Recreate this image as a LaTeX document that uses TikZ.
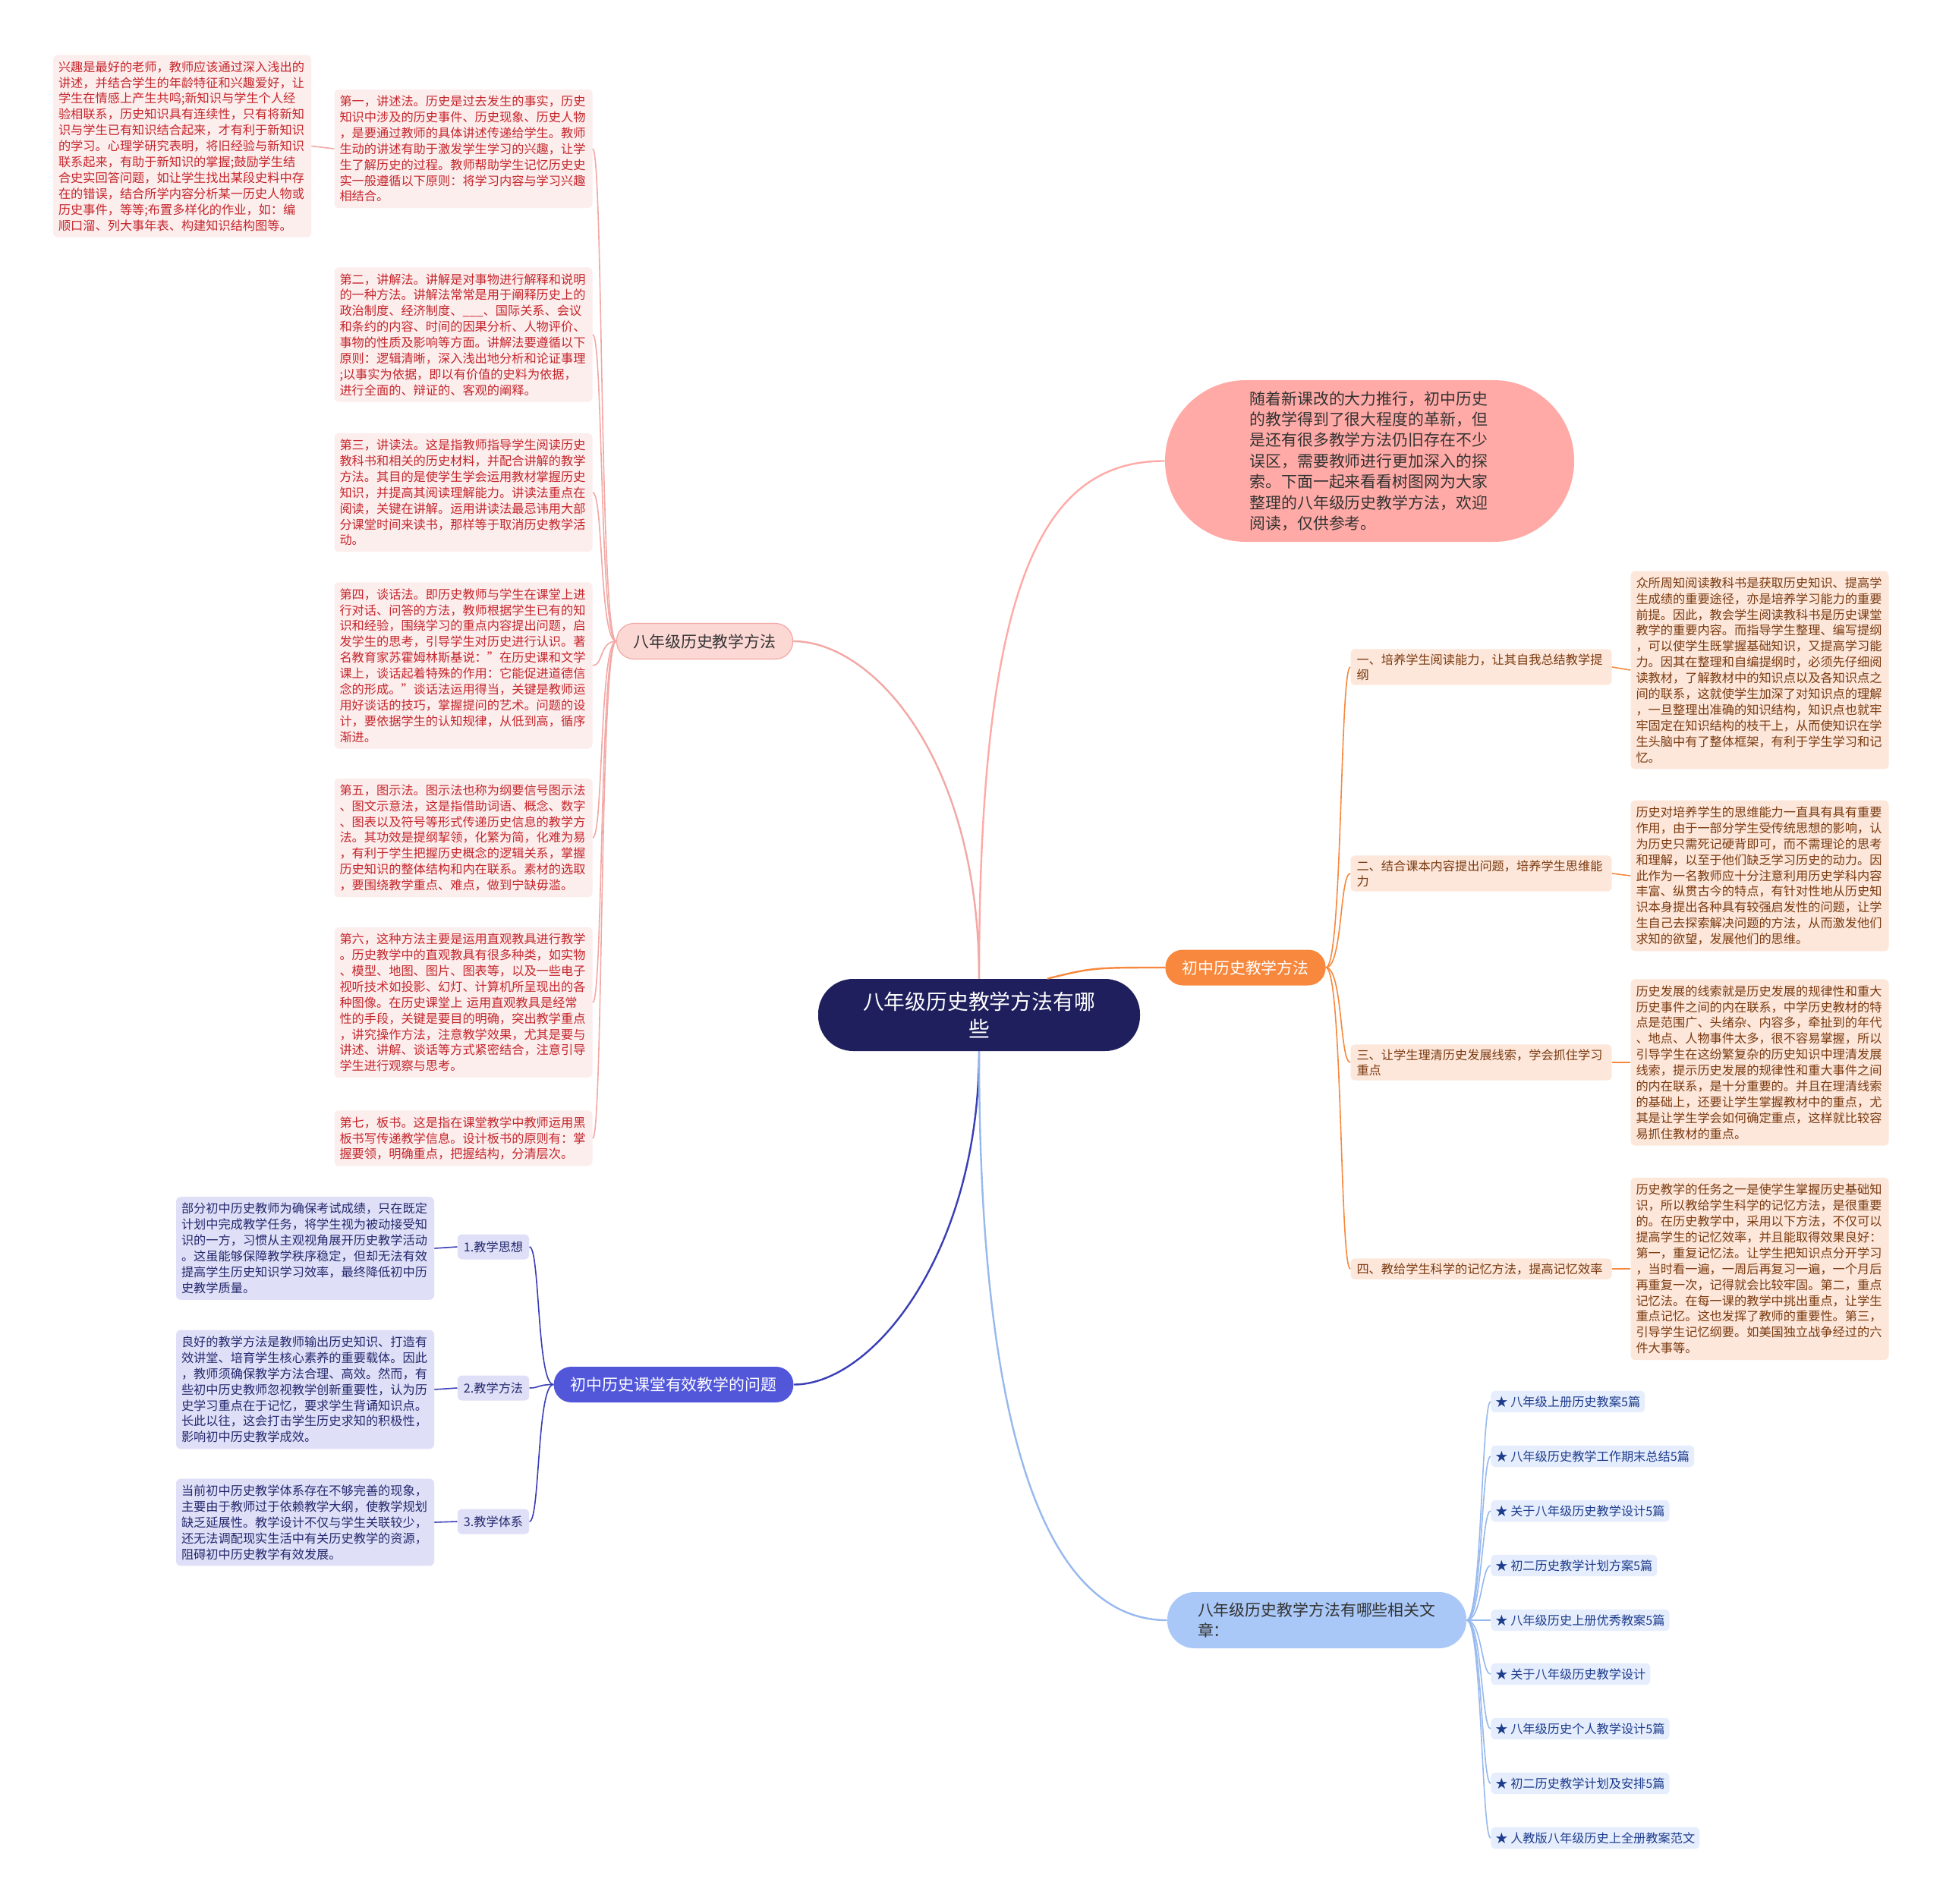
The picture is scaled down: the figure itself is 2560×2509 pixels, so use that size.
\documentclass[tikz,border=0pt]{standalone}
\usepackage{fontspec}
\setmainfont{Noto Sans CJK SC}
\usetikzlibrary{positioning}
\definecolor{navy}{HTML}{1F1F5E}
\definecolor{salmon}{HTML}{FFAAA6}
\definecolor{pinkfill}{HTML}{FCD8D5}
\definecolor{pinkline}{HTML}{F2A8A5}
\definecolor{leaffill}{HTML}{FDEEEE}
\definecolor{leafred}{HTML}{C4262B}
\definecolor{orangemain}{HTML}{F7883D}
\definecolor{peachfill}{HTML}{FDE7DA}
\definecolor{browntext}{HTML}{7A3A10}
\definecolor{bluemain}{HTML}{5257DA}
\definecolor{blueline}{HTML}{3A3EB5}
\definecolor{lavfill}{HTML}{DFE0F7}
\definecolor{navytext}{HTML}{25286E}
\definecolor{skymain}{HTML}{A9C8F7}
\definecolor{skyline}{HTML}{97B9EE}
\definecolor{linkfill}{HTML}{E6EEFD}
\definecolor{linktext}{HTML}{1D3C8C}
\tikzstyle{root} = [rectangle, rounded corners=23pt, fill=navy, text=white, minimum width=212pt, minimum height=47.5pt, text width=154pt, align=center, font=\fontsize{13.9}{18}\selectfont]
\tikzstyle{intro} = [rectangle, rounded corners=53pt, fill=salmon, text=black!80, minimum width=269.5pt, minimum height=106.5pt, text width=158pt, align=left, font=\fontsize{10.45}{13.7}\selectfont]
\tikzstyle{branch} = [rectangle, rounded corners=11.5pt, minimum height=23.5pt, inner xsep=11pt, font=\fontsize{10.45}{13.7}\selectfont]
\tikzstyle{leaf} = [rectangle, rounded corners=3pt, fill=leaffill, text=leafred, text width=163pt, align=left, inner xsep=3.5pt, inner ysep=4pt, font=\fontsize{8.1}{10.45}\selectfont]
\tikzstyle{sub} = [rectangle, rounded corners=3pt, inner xsep=4pt, inner ysep=3pt, font=\fontsize{8.1}{10.1}\selectfont]
\tikzstyle{link} = [rectangle, rounded corners=3pt, fill=linkfill, text=linktext, minimum height=14pt, inner xsep=3pt, font=\fontsize{8.1}{10.45}\selectfont]
\tikzstyle{mainline} = [line width=1.2pt]
\tikzstyle{twig} = [line width=0.8pt]
\begin{document}
\begin{tikzpicture}[x=0.5pt, y=-0.5pt]
\fill[white] (0,0) rectangle (2560,2509);
\useasboundingbox (0,0) rectangle (2560,2509);

% centre and main branches
\node (ctr) [root] at (1290,1337.5) {八年级历史教学方法有哪\\些};
\node (intro) [intro] at (1804.5,607.5) {随着新课改的大力推行，初中历史\\的教学得到了很大程度的革新，但\\是还有很多教学方法仍旧存在不少\\误区，需要教师进行更加深入的探\\索。下面一起来看看树图网为大家\\整理的八年级历史教学方法，欢迎\\阅读，仅供参考。};
\node (b1) [branch, fill=pinkfill, draw=pinkline, line width=0.6pt, text=black!80] at (928.5,845) {八年级历史教学方法};
\node (b2) [branch, fill=orangemain, text=white] at (1641,1275) {初中历史教学方法};
\node (b3) [branch, fill=bluemain, text=white] at (887.5,1824.5) {初中历史课堂有效教学的问题};
\node (b4) [branch, fill=skymain, text=black!80, rounded corners=18pt, minimum height=37pt, text width=157pt, align=left, inner xsep=20pt] at (1735,2135) {八年级历史教学方法有哪些相关文\\章：};

% left pink leaves
\node (l0) [leaf] at (240,192.5) {兴趣是最好的老师，教师应该通过深入浅出的\\讲述，并结合学生的年龄特征和兴趣爱好，让\\学生在情感上产生共鸣;新知识与学生个人经\\验相联系，历史知识具有连续性，只有将新知\\识与学生已有知识结合起来，才有利于新知识\\的学习。心理学研究表明，将旧经验与新知识\\联系起来，有助于新知识的掌握;鼓励学生结\\合史实回答问题，如让学生找出某段史料中存\\在的错误，结合所学内容分析某一历史人物或\\历史事件，等等;布置多样化的作业，如：编\\顺口溜、列大事年表、构建知识结构图等。};
\node (l1) [leaf] at (610.5,196) {第一，讲述法。历史是过去发生的事实，历史\\知识中涉及的历史事件、历史现象、历史人物\\，是要通过教师的具体讲述传递给学生。教师\\生动的讲述有助于激发学生学习的兴趣，让学\\生了解历史的过程。教师帮助学生记忆历史史\\实一般遵循以下原则：将学习内容与学习兴趣\\相结合。};
\node (l2) [leaf] at (610.5,441) {第二，讲解法。讲解是对事物进行解释和说明\\的一种方法。讲解法常常是用于阐释历史上的\\政治制度、经济制度、\_\_\_、国际关系、会议\\和条约的内容、时间的因果分析、人物评价、\\事物的性质及影响等方面。讲解法要遵循以下\\原则：逻辑清晰，深入浅出地分析和论证事理\\;以事实为依据，即以有价值的史料为依据，\\进行全面的、辩证的、客观的阐释。};
\node (l3) [leaf] at (610.5,649) {第三，讲读法。这是指教师指导学生阅读历史\\教科书和相关的历史材料，并配合讲解的教学\\方法。其目的是使学生学会运用教材掌握历史\\知识，并提高其阅读理解能力。讲读法重点在\\阅读，关键在讲解。运用讲读法最忌讳用大部\\分课堂时间来读书，那样等于取消历史教学活\\动。};
\node (l4) [leaf] at (610.5,877) {第四，谈话法。即历史教师与学生在课堂上进\\行对话、问答的方法，教师根据学生已有的知\\识和经验，围绕学习的重点内容提出问题，启\\发学生的思考，引导学生对历史进行认识。著\\名教育家苏霍姆林斯基说："在历史课和文学\\课上，谈话起着特殊的作用：它能促进道德信\\念的形成。"谈话法运用得当，关键是教师运\\用好谈话的技巧，掌握提问的艺术。问题的设\\计，要依据学生的认知规律，从低到高，循序\\渐进。};
\node (l5) [leaf] at (610.5,1104) {第五，图示法。图示法也称为纲要信号图示法\\、图文示意法，这是指借助词语、概念、数字\\、图表以及符号等形式传递历史信息的教学方\\法。其功效是提纲挈领，化繁为简，化难为易\\，有利于学生把握历史概念的逻辑关系，掌握\\历史知识的整体结构和内在联系。素材的选取\\，要围绕教学重点、难点，做到宁缺毋滥。};
\node (l6) [leaf] at (610.5,1321) {第六，这种方法主要是运用直观教具进行教学\\。历史教学中的直观教具有很多种类，如实物\\、模型、地图、图片、图表等，以及一些电子\\视听技术如投影、幻灯、计算机所呈现出的各\\种图像。在历史课堂上 运用直观教具是经常\\性的手段，关键是要目的明确，突出教学重点\\，讲究操作方法，注意教学效果，尤其是要与\\讲述、讲解、谈话等方式紧密结合，注意引导\\学生进行观察与思考。};
\node (l7) [leaf] at (610.5,1500) {第七，板书。这是指在课堂教学中教师运用黑\\板书写传递教学信息。设计板书的原则有：掌\\握要领，明确重点，把握结构，分清层次。};

% right orange labels and texts
\node (o1) [sub, fill=peachfill, text=browntext, text width=164pt, align=left] at (1951.5,879) {一、培养学生阅读能力，让其自我总结教学提\\纲};
\node (o2) [sub, fill=peachfill, text=browntext, text width=164pt, align=left] at (1951.5,1151) {二、结合课本内容提出问题，培养学生思维能\\力};
\node (o3) [sub, fill=peachfill, text=browntext, text width=164pt, align=left] at (1951.5,1400) {三、让学生理清历史发展线索，学会抓住学习\\重点};
\node (o4) [sub, fill=peachfill, text=browntext, text width=164pt, align=left] at (1951.5,1672) {四、教给学生科学的记忆方法，提高记忆效率};
\node (r1) [leaf, fill=peachfill, text=browntext] at (2318.5,883) {众所周知阅读教科书是获取历史知识、提高学\\生成绩的重要途径，亦是培养学习能力的重要\\前提。因此，教会学生阅读教科书是历史课堂\\教学的重要内容。而指导学生整理、编写提纲\\，可以使学生既掌握基础知识，又提高学习能\\力。因其在整理和自编提纲时，必须先仔细阅\\读教材，了解教材中的知识点以及各知识点之\\间的联系，这就使学生加深了对知识点的理解\\，一旦整理出准确的知识结构，知识点也就牢\\牢固定在知识结构的枝干上，从而使知识在学\\生头脑中有了整体框架，有利于学生学习和记\\忆。};
\node (r2) [leaf, fill=peachfill, text=browntext] at (2318.5,1154) {历史对培养学生的思维能力一直具有具有重要\\作用，由于一部分学生受传统思想的影响，认\\为历史只需死记硬背即可，而不需理论的思考\\和理解，以至于他们缺乏学习历史的动力。因\\此作为一名教师应十分注意利用历史学科内容\\丰富、纵贯古今的特点，有针对性地从历史知\\识本身提出各种具有较强启发性的问题，让学\\生自己去探索解决问题的方法，从而激发他们\\求知的欲望，发展他们的思维。};
\node (r3) [leaf, fill=peachfill, text=browntext] at (2318.5,1400) {历史发展的线索就是历史发展的规律性和重大\\历史事件之间的内在联系，中学历史教材的特\\点是范围广、头绪杂、内容多，牵扯到的年代\\、地点、人物事件太多，很不容易掌握，所以\\引导学生在这纷繁复杂的历史知识中理清发展\\线索，提示历史发展的规律性和重大事件之间\\的内在联系，是十分重要的。并且在理清线索\\的基础上，还要让学生掌握教材中的重点，尤\\其是让学生学会如何确定重点，这样就比较容\\易抓住教材的重点。};
\node (r4) [leaf, fill=peachfill, text=browntext] at (2318.5,1672) {历史教学的任务之一是使学生掌握历史基础知\\识，所以教给学生科学的记忆方法，是很重要\\的。在历史教学中，采用以下方法，不仅可以\\提高学生的记忆效率，并且能取得效果良好：\\第一，重复记忆法。让学生把知识点分开学习\\，当时看一遍，一周后再复习一遍，一个月后\\再重复一次，记得就会比较牢固。第二，重点\\记忆法。在每一课的教学中挑出重点，让学生\\重点记忆。这也发挥了教师的重要性。第三，\\引导学生记忆纲要。如美国独立战争经过的六\\件大事等。};

% lower left blue labels and texts
\node (q1) [sub, fill=lavfill, text=navytext, minimum height=16.5pt] at (650,1643) {1.教学思想};
\node (q2) [sub, fill=lavfill, text=navytext, minimum height=16.5pt] at (650,1829) {2.教学方法};
\node (q3) [sub, fill=lavfill, text=navytext, minimum height=16.5pt] at (650,2005) {3.教学体系};
\node (p1) [leaf, fill=lavfill, text=navytext] at (402,1645) {部分初中历史教师为确保考试成绩，只在既定\\计划中完成教学任务，将学生视为被动接受知\\识的一方，习惯从主观视角展开历史教学活动\\。这虽能够保障教学秩序稳定，但却无法有效\\提高学生历史知识学习效率，最终降低初中历\\史教学质量。};
\node (p2) [leaf, fill=lavfill, text=navytext] at (402,1831) {良好的教学方法是教师输出历史知识、打造有\\效讲堂、培育学生核心素养的重要载体。因此\\，教师须确保教学方法合理、高效。然而，有\\些初中历史教师忽视教学创新重要性，认为历\\史学习重点在于记忆，要求学生背诵知识点。\\长此以往，这会打击学生历史求知的积极性，\\影响初中历史教学成效。};
\node (p3) [leaf, fill=lavfill, text=navytext] at (402,2006) {当前初中历史教学体系存在不够完善的现象，\\主要由于教师过于依赖教学大纲，使教学规划\\缺乏延展性。教学设计不仅与学生关联较少，\\还无法调配现实生活中有关历史教学的资源，\\阻碍初中历史教学有效发展。};

% lower right links
\node (k1) [link, anchor=west] at (1964,1847) {★ 八年级上册历史教案5篇};
\node (k2) [link, anchor=west] at (1964,1919) {★ 八年级历史教学工作期末总结5篇};
\node (k3) [link, anchor=west] at (1964,1991) {★ 关于八年级历史教学设计5篇};
\node (k4) [link, anchor=west] at (1964,2063) {★ 初二历史教学计划方案5篇};
\node (k5) [link, anchor=west] at (1964,2135) {★ 八年级历史上册优秀教案5篇};
\node (k6) [link, anchor=west] at (1964,2206) {★ 关于八年级历史教学设计};
\node (k7) [link, anchor=west] at (1964,2278) {★ 八年级历史个人教学设计5篇};
\node (k8) [link, anchor=west] at (1964,2350) {★ 初二历史教学计划及安排5篇};
\node (k9) [link, anchor=west] at (1964,2422) {★ 人教版八年级历史上全册教案范文};

% connectors from the centre
\draw [mainline, salmon] (ctr.north) .. controls (1290,750) and (1380,607) .. (intro.west);
\draw [mainline, pinkline] (ctr.north) .. controls (1290,1000) and (1150,845) .. (b1.east);
\draw [mainline, orangemain] ([xshift=45pt]ctr.north) .. controls (1440,1275) .. (b2.west);
\draw [mainline, blueline] (ctr.south) .. controls (1290,1650) and (1150,1825) .. (b3.east);
\draw [mainline, skyline] (ctr.south) .. controls (1290,1950) and (1400,2135) .. (b4.west);

% brackets
\draw [twig, pinkline] (b1.west) .. controls +(-22,0) and +(14,0) .. (l1.east);
\draw [twig, pinkline] (b1.west) .. controls +(-22,0) and +(14,0) .. (l2.east);
\draw [twig, pinkline] (b1.west) .. controls +(-22,0) and +(14,0) .. (l3.east);
\draw [twig, pinkline] (b1.west) .. controls +(-22,0) and +(14,0) .. (l4.east);
\draw [twig, pinkline] (b1.west) .. controls +(-22,0) and +(14,0) .. (l5.east);
\draw [twig, pinkline] (b1.west) .. controls +(-22,0) and +(14,0) .. (l6.east);
\draw [twig, pinkline] (b1.west) .. controls +(-22,0) and +(14,0) .. (l7.east);
\draw [twig, pinkline] (l0.east) -- (l1.west);

\draw [twig, orangemain] (b2.east) .. controls +(22,0) and +(-14,0) .. (o1.west);
\draw [twig, orangemain] (b2.east) .. controls +(22,0) and +(-14,0) .. (o2.west);
\draw [twig, orangemain] (b2.east) .. controls +(22,0) and +(-14,0) .. (o3.west);
\draw [twig, orangemain] (b2.east) .. controls +(22,0) and +(-14,0) .. (o4.west);
\draw [twig, orangemain] (o1.east) -- (r1.west);
\draw [twig, orangemain] (o2.east) -- (r2.west);
\draw [twig, orangemain] (o3.east) -- (r3.west);
\draw [twig, orangemain] (o4.east) -- (r4.west);

\draw [twig, blueline] (b3.west) .. controls +(-22,0) and +(14,0) .. (q1.east);
\draw [twig, blueline] (b3.west) .. controls +(-22,0) and +(14,0) .. (q2.east);
\draw [twig, blueline] (b3.west) .. controls +(-22,0) and +(14,0) .. (q3.east);
\draw [twig, blueline] (q1.west) -- (p1.east);
\draw [twig, blueline] (q2.west) -- (p2.east);
\draw [twig, blueline] (q3.west) -- (p3.east);

\draw [twig, skyline] (b4.east) .. controls +(20,0) and +(-12,0) .. (k1.west);
\draw [twig, skyline] (b4.east) .. controls +(20,0) and +(-12,0) .. (k2.west);
\draw [twig, skyline] (b4.east) .. controls +(20,0) and +(-12,0) .. (k3.west);
\draw [twig, skyline] (b4.east) .. controls +(20,0) and +(-12,0) .. (k4.west);
\draw [twig, skyline] (b4.east) .. controls +(20,0) and +(-12,0) .. (k5.west);
\draw [twig, skyline] (b4.east) .. controls +(20,0) and +(-12,0) .. (k6.west);
\draw [twig, skyline] (b4.east) .. controls +(20,0) and +(-12,0) .. (k7.west);
\draw [twig, skyline] (b4.east) .. controls +(20,0) and +(-12,0) .. (k8.west);
\draw [twig, skyline] (b4.east) .. controls +(20,0) and +(-12,0) .. (k9.west);
\end{tikzpicture}
\end{document}
